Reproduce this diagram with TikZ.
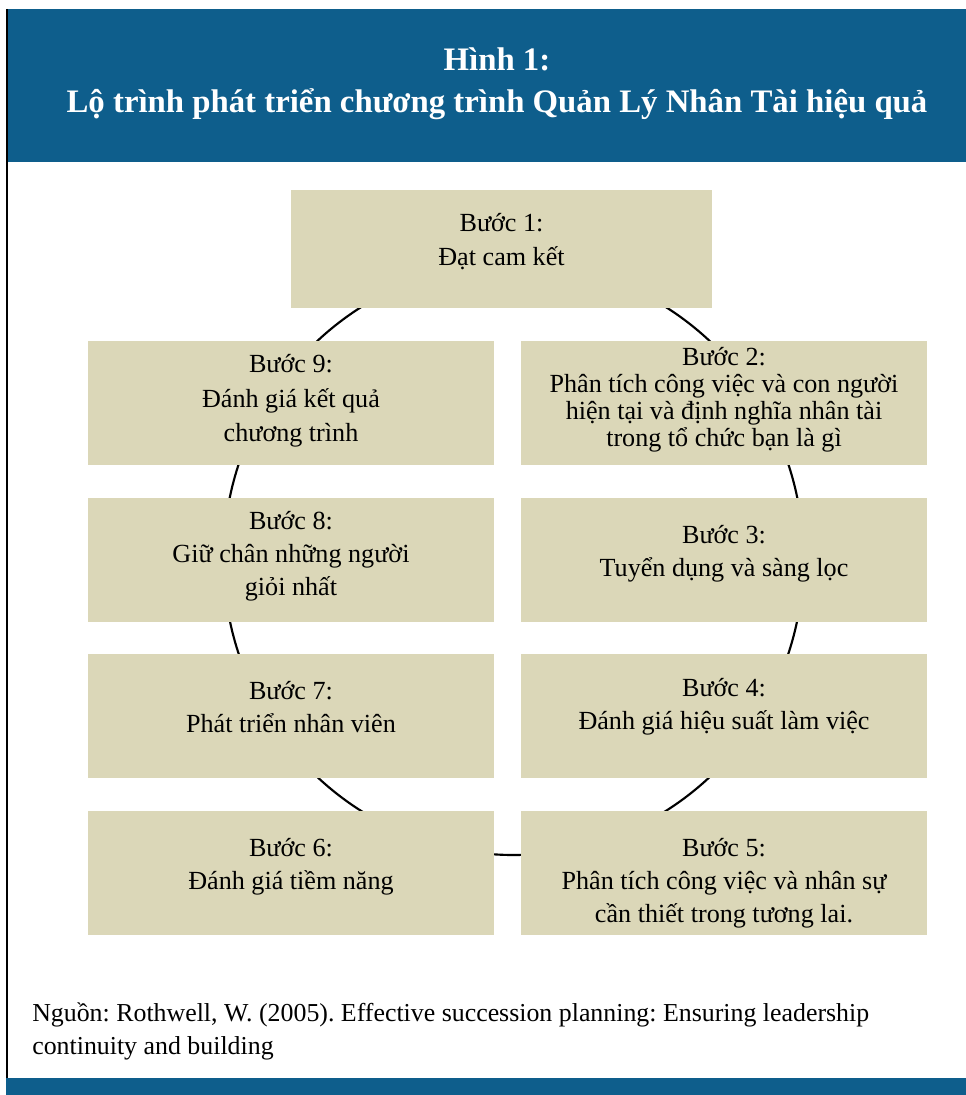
\documentclass[tikz,border=0pt]{standalone}
\usepackage{fontspec}
\setmainfont{Liberation Serif}
\frenchspacing
\definecolor{headblue}{RGB}{14,94,140}
\definecolor{stepfill}{RGB}{219,215,184}
\tikzset{
  stepbox/.style={fill=stepfill, minimum width=304.5pt, minimum height=93pt, inner sep=0pt},
  steptext/.style={inner sep=0pt, align=center, font=\fontsize{19.6}{24.75}\selectfont},
}
\begin{document}
\begin{tikzpicture}[x=0.75pt,y=-0.75pt]
    % Page frame
    \useasboundingbox (0,0) rectangle (966,1095);
    \fill[headblue] (6,9) rectangle (966,162);
    \fill[headblue] (6,1078) rectangle (966,1095);
    \draw[line width=1.5pt] (7,9) -- (7,1078);

    % Title in the header bar
    \node[text=white, align=center, font=\bfseries\fontsize{24.6}{31.5}\selectfont] (title) at (497,84)
        {Hình 1:\\Lộ trình phát triển chương trình Quản Lý Nhân Tài hiệu quả};

    % Cycle behind the steps
    \draw[line width=1.6pt] (513.5,559) ellipse (290 and 296);

    % Step boxes
    \node[stepbox, minimum width=315.75pt, minimum height=88.5pt] (step1) at (501.5,249) {};
    \node[stepbox] (step2) at (724,403) {};
    \node[stepbox] (step3) at (724,560) {};
    \node[stepbox] (step4) at (724,716) {};
    \node[stepbox] (step5) at (724,873) {};
    \node[stepbox] (step6) at (291,873) {};
    \node[stepbox] (step7) at (291,716) {};
    \node[stepbox] (step8) at (291,560) {};
    \node[stepbox] (step9) at (291,403) {};

    % Texts inside the boxes
    \node[steptext, font=\fontsize{19.6}{25.5}\selectfont] (text1) at (501.5,242) {Bước 1:\\Đạt cam kết};
    \node[steptext, font=\fontsize{19.6}{20.25}\selectfont] (text2) at (724,400)
        {Bước 2:\\Phân tích công việc và con người\\hiện tại và định nghĩa nhân tài\\trong tổ chức bạn là gì};
    \node[steptext] (text3) at (724,554) {Bước 3:\\Tuyển dụng và sàng lọc};
    \node[steptext] (text4) at (724,707) {Bước 4:\\Đánh giá hiệu suất làm việc};
    \node[steptext] (text5) at (724,883) {Bước 5:\\Phân tích công việc và nhân sự\\cần thiết trong tương lai.};
    \node[steptext] (text6) at (291,867) {Bước 6:\\Đánh giá tiềm năng};
    \node[steptext] (text7) at (291,707) {Bước 7:\\Phát triển nhân viên};
    \node[steptext] (text8) at (291,556) {Bước 8:\\Giữ chân những người\\giỏi nhất};
    \node[steptext, font=\fontsize{19.6}{26}\selectfont] (text9) at (291,401) {Bước 9:\\Đánh giá kết quả\\chương trình};

    % Source line
    \node[anchor=north west, align=left, inner sep=0pt, font=\fontsize{19.4}{24.75}\selectfont] (source) at (32,1002)
        {Nguồn: Rothwell, W. (2005). Effective succession planning: Ensuring leadership\\continuity and building};
\end{tikzpicture}
\end{document}
